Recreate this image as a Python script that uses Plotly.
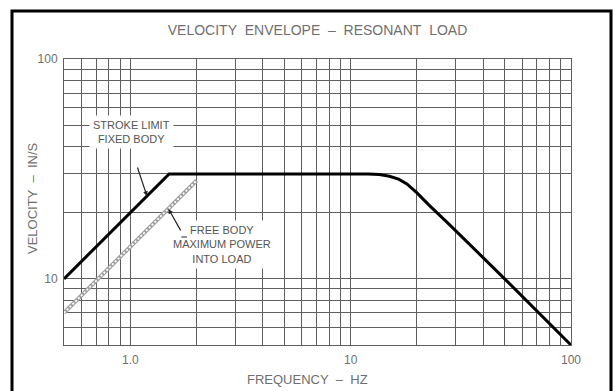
import plotly.graph_objects as go
import math

# ---- data ----
stroke_freq = [0.5, 1.5, 12, 13.5, 15, 16.5, 18, 20, 22.5, 25, 28, 50, 100]
stroke_vel = [10, 30, 30, 29.8, 29.3, 28.4, 27.0, 24.6, 21.8, 19.7, 17.7, 10, 5]
free_freq = [0.5, 2.0]
free_vel = [7, 28]

x_grid = [0.5, 0.6, 0.7, 0.8, 0.9, 1, 2, 3, 4, 5, 6, 7, 8, 9, 10,
          20, 30, 40, 50, 60, 70, 80, 90, 100]
x_labels = {1: "1.0", 10: "10", 100: "100"}
y_grid = [5, 6, 7, 8, 9, 10, 20, 30, 40, 50, 60, 70, 80, 90, 100]
y_labels = {10: "10", 100: "100"}

TITLE = "VELOCITY\u00a0\u00a0ENVELOPE\u00a0\u00a0\u2013\u00a0\u00a0RESONANT\u00a0\u00a0LOAD"
XTITLE = "FREQUENCY\u00a0\u00a0\u2013\u00a0\u00a0HZ"
YTITLE = "VELOCITY\u00a0\u00a0\u2013\u00a0\u00a0IN/S"

FONT = "Liberation Sans"
TXT = "#6f6f6f"
GRID = "#5f5f5f"

fig = go.Figure()

# free body (chain of small circles look)
fig.add_trace(go.Scatter(x=free_freq, y=free_vel, mode="lines",
                         line=dict(color="#a0a0a0", width=4),
                         hoverinfo="skip", showlegend=False))
fig.add_trace(go.Scatter(x=free_freq, y=free_vel, mode="lines",
                         line=dict(color="white", width=1.8, dash="2px,2px"),
                         hoverinfo="skip", showlegend=False))
# stroke limit
fig.add_trace(go.Scatter(x=stroke_freq, y=stroke_vel, mode="lines",
                         line=dict(color="black", width=3),
                         hoverinfo="skip", showlegend=False))

W, H = 613, 391
L, R, T, B = 64, 42, 59, 46
pw, ph = W - L - R, H - T - B


def px_to_paper(px, py):
    return (px - L) / pw, (H - B - py) / ph


ann_font = dict(family=FONT, size=11, color="#555555")

annotations = []
# labels
annotations.append(dict(x=math.log10(1.01), y=math.log10(46.5), xref="x", yref="y",
                        text="STROKE\u00a0LIMIT<br>FIXED\u00a0BODY", showarrow=False,
                        font=ann_font, bgcolor="white", borderpad=3, align="center"))
annotations.append(dict(x=math.log10(2.6), y=math.log10(14.3), xref="x", yref="y",
                        text="FREE\u00a0BODY<br>MAXIMUM\u00a0POWER<br>INTO\u00a0LOAD",
                        showarrow=False, font=ann_font, bgcolor="white", borderpad=3,
                        align="center"))
# leader arrows
annotations.append(dict(x=math.log10(1.19), y=math.log10(23.8), xref="x", yref="y",
                        text="", showarrow=True, ax=-10, ay=-30, arrowhead=2,
                        arrowsize=0.8, arrowwidth=1.2, arrowcolor="#222222"))
annotations.append(dict(x=math.log10(1.49), y=math.log10(20.8), xref="x", yref="y",
                        text="", showarrow=True, ax=13, ay=23, arrowhead=2,
                        arrowsize=0.8, arrowwidth=1.2, arrowcolor="#222222"))
annotations.append(dict(x=math.log10(1.705), y=math.log10(15.5), xref="x", yref="y",
                        text="", showarrow=True, ax=7, ay=0, arrowhead=0,
                        arrowwidth=1.2, arrowcolor="#222222"))

# axis titles
px_, py_ = px_to_paper(32, 198)
annotations.append(dict(x=px_, y=py_, xref="paper", yref="paper", text=YTITLE,
                        textangle=-90, showarrow=False, xanchor="center", yanchor="middle",
                        font=dict(family=FONT, size=13, color=TXT)))
px_, py_ = px_to_paper(307, 379)
annotations.append(dict(x=px_, y=py_, xref="paper", yref="paper", text=XTITLE,
                        showarrow=False, xanchor="center", yanchor="middle",
                        font=dict(family=FONT, size=13, color=TXT)))

# outer frame
fx0, fy0 = px_to_paper(12, 420)
fx1, fy1 = px_to_paper(611, 11)
shapes = [dict(type="rect", xref="paper", yref="paper", x0=fx0, y0=fy0, x1=fx1, y1=fy1,
               line=dict(color="black", width=3), layer="above")]

fig.update_layout(
    width=W, height=H,
    margin=dict(l=L, r=R, t=T, b=B),
    paper_bgcolor="white", plot_bgcolor="white",
    title=dict(text=TITLE, x=0.5, xref="paper", xanchor="center",
               y=1 - 30 / H, yref="container", yanchor="middle",
               font=dict(family=FONT, size=14, color=TXT)),
    annotations=annotations,
    shapes=shapes,
    showlegend=False,
)

fig.update_xaxes(type="log", range=[math.log10(0.5), 2],
                 tickvals=x_grid, ticktext=[x_labels.get(v, "") for v in x_grid],
                 showgrid=True, gridcolor=GRID, gridwidth=1,
                 showline=True, mirror=True, linecolor=GRID, linewidth=1,
                 ticks="outside", ticklen=4, tickcolor="rgba(0,0,0,0)",
                 tickfont=dict(family=FONT, size=12, color=TXT), zeroline=False)
fig.update_yaxes(type="log", range=[math.log10(5), 2],
                 tickvals=y_grid, ticktext=[y_labels.get(v, "") for v in y_grid],
                 showgrid=True, gridcolor=GRID, gridwidth=1,
                 showline=True, mirror=True, linecolor=GRID, linewidth=1,
                 ticks="outside", ticklen=3, tickcolor="rgba(0,0,0,0)",
                 tickfont=dict(family=FONT, size=12, color=TXT), zeroline=False)

fig.write_html("out.html")
